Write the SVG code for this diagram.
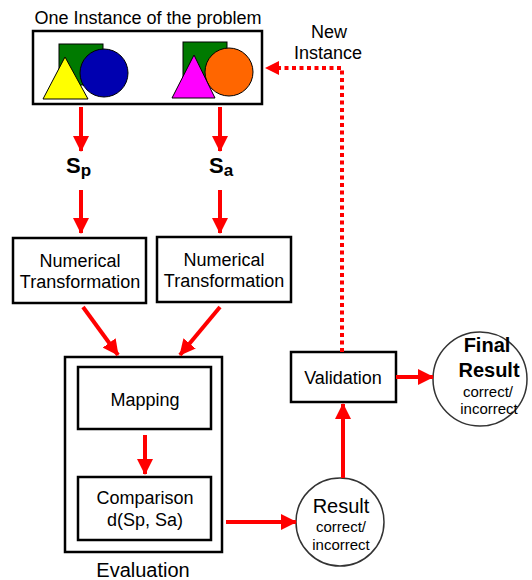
<svg xmlns="http://www.w3.org/2000/svg" width="532" height="580" viewBox="0 0 532 580">
<defs>
<marker id="ah" markerUnits="userSpaceOnUse" markerWidth="16" markerHeight="16" viewBox="0 0 16 16" refX="15" refY="8" orient="auto">
<path d="M0,0 L16,8 L0,16 Z" fill="#ff0000"/>
</marker>
</defs>
<style>
text{font-family:"Liberation Sans",Arial,sans-serif;fill:#000}
.box{fill:#fff;stroke:#000;stroke-width:2.5}
.circ{fill:#fff;stroke:#333;stroke-width:1.5}
.arr{stroke:#ff0000;stroke-width:4;fill:none;marker-end:url(#ah)}
.dot{stroke:#ff0000;stroke-width:4;fill:none;stroke-dasharray:4 3.5}
.t18{font-size:18px;text-anchor:middle}
.sm{font-size:15px;text-anchor:middle}
.big{font-size:20px;text-anchor:middle}
.sh{stroke:#000;stroke-width:1}
</style>
<g id="instance">
<text x="148" y="24" font-size="18" text-anchor="middle">One Instance of the problem</text>
<rect class="box" x="33" y="31" width="229" height="73"/>
<rect class="sh" x="59" y="44" width="44" height="41" fill="#007a00"/>
<circle class="sh" cx="104" cy="73" r="24" fill="#0000b0"/>
<polygon class="sh" points="65,57 88,99 43,99" fill="#ffff00"/>
<rect class="sh" x="183" y="42" width="44" height="43" fill="#007a00"/>
<circle class="sh" cx="229" cy="72" r="24" fill="#ff6600"/>
<polygon class="sh" points="194,55 215,98 172,98" fill="#ff00ff"/>
</g>
<g id="sp">
<text x="66" y="173" font-size="22" font-weight="bold">S<tspan font-size="17" dy="3">p</tspan></text>
</g>
<g id="sa">
<text x="209" y="173" font-size="22" font-weight="bold">S<tspan font-size="17" dy="3">a</tspan></text>
</g>
<g id="numtrans-p">
<rect class="box" x="13" y="238" width="133" height="65"/>
<text class="t18" x="80" y="267">Numerical</text>
<text class="t18" x="80" y="288">Transformation</text>
</g>
<g id="numtrans-a">
<rect class="box" x="157" y="237" width="134" height="65"/>
<text class="t18" x="224" y="266">Numerical</text>
<text class="t18" x="224" y="287">Transformation</text>
</g>
<g id="evaluation">
<rect class="box" x="65" y="357" width="157" height="195"/>
<text class="big" x="143" y="577">Evaluation</text>
</g>
<g id="mapping">
<rect class="box" x="78" y="367" width="133" height="62"/>
<text class="t18" x="145" y="406">Mapping</text>
</g>
<g id="comparison">
<rect class="box" x="78" y="477" width="133" height="63"/>
<text class="t18" x="145" y="504">Comparison</text>
<text class="t18" x="145" y="526">d(Sp, Sa)</text>
</g>
<g id="result">
<circle class="circ" cx="340" cy="522" r="44"/>
<text class="big" x="341" y="513">Result</text>
<text class="sm" x="341" y="532">correct/</text>
<text class="sm" x="341" y="550">incorrect</text>
</g>
<g id="validation">
<rect class="box" x="291" y="352" width="105" height="50"/>
<text class="t18" x="343" y="384">Validation</text>
</g>
<g id="final">
<circle class="circ" cx="480" cy="379" r="47"/>
<text class="big" x="487" y="352" font-weight="bold">Final</text>
<text class="big" x="489" y="377" font-weight="bold">Result</text>
<text class="sm" x="488" y="397">correct/</text>
<text class="sm" x="489" y="414">incorrect</text>
</g>
<g id="new-instance-label">
<text x="329" y="38" font-size="18" text-anchor="middle">New</text>
<text x="328" y="59" font-size="18" text-anchor="middle">Instance</text>
</g>
<g id="connectors">
<line class="arr" x1="81" y1="107" x2="81" y2="151"/>
<line class="arr" x1="220" y1="107" x2="220" y2="151"/>
<line class="arr" x1="81" y1="190" x2="81" y2="233"/>
<line class="arr" x1="220" y1="190" x2="220" y2="233"/>
<line class="arr" x1="83" y1="307" x2="118" y2="355"/>
<line class="arr" x1="220" y1="307" x2="180" y2="355"/>
<line class="arr" x1="145" y1="435" x2="145" y2="474"/>
<line class="arr" x1="226" y1="522" x2="296" y2="522"/>
<line class="arr" x1="343" y1="478" x2="343" y2="404"/>
<line class="arr" x1="396" y1="377" x2="433" y2="377"/>
<polyline class="dot" points="342,352 342,68 276,68"/>
<path d="M265,68 L279,61 L279,75 Z" fill="#ff0000"/>
</g>
</svg>
